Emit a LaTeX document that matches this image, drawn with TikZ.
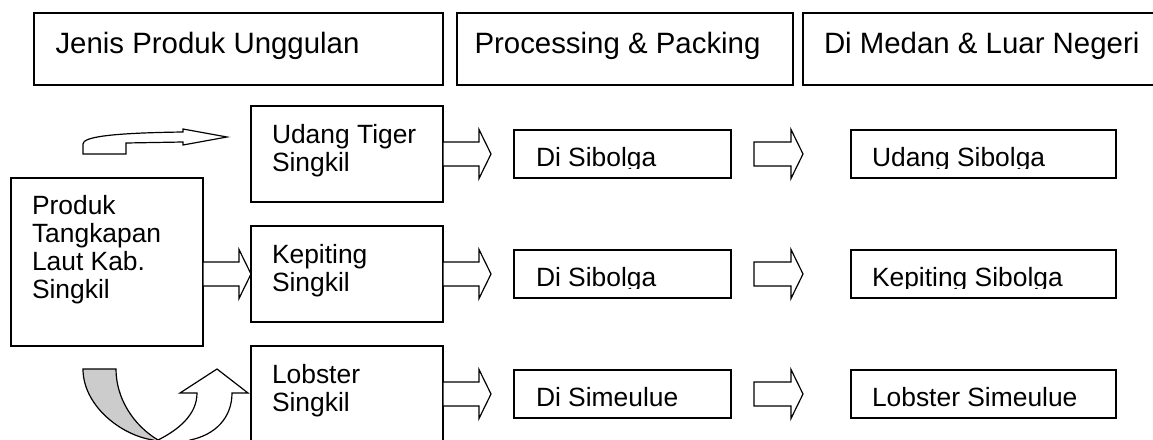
\documentclass[tikz,border=0pt]{standalone}
\usepackage{fontspec}
\setmainfont{Liberation Sans}
\newcommand\blockarrow[3]{%
  \draw[barrow] (#1) ++(0,-12) -- ++(#2,0) -- ++(0,-12.5) -- ++(#3,24.5)
    -- ++(-#3,24.5) -- ++(0,-12.5) -- ++(-#2,0) -- cycle;}
\begin{document}
\begin{tikzpicture}[x=1pt,y=-1pt,
  box/.style={draw, line width=1.5pt, inner sep=0pt, outer sep=0pt, anchor=north west},
  txt/.style={inner sep=0pt, outer sep=0pt, anchor=base west, font=\fontsize{26.4}{28}\selectfont},
  htxt/.style={inner sep=0pt, outer sep=0pt, anchor=base west, font=\fontsize{29.4}{33}\selectfont},
  barrow/.style={draw, line width=1.2pt, fill=white, line join=miter},
  uback/.style={draw, line width=1.2pt, fill=gray!40, line join=miter}]
\useasboundingbox (0,0) rectangle (1153,439);
\clip (0,0) rectangle (1153,439);

% header boxes
\node[box, minimum width=409pt, minimum height=72pt] (h1) at (34,13) {};
\node[box, minimum width=336pt, minimum height=72pt] (h2) at (457,13) {};
\node[box, minimum width=400pt, minimum height=72pt] (h3) at (803,13) {};
\node[htxt] (t1) at (55.5,53) {Jenis Produk Unggulan};
\node[htxt] (t2) at (474.5,53) {Processing \& Packing};
\node[htxt] (t3) at (824,53) {Di Medan \& Luar Negeri};

% source box
\node[box, minimum width=192pt, minimum height=168pt] (pbox) at (11,178) {};
\node[txt] (ptxt) at (32,214) {\vtop{\hbox{Produk}\hbox{Tangkapan}\hbox{Laut Kab.}\hbox{Singkil}}};

% product boxes
\node[box, minimum width=192pt, minimum height=96pt] (udang) at (251,106) {};
\node[box, minimum width=192pt, minimum height=96pt] (kepiting) at (251,226) {};
\node[box, minimum width=192pt, minimum height=96pt] (lobster) at (251,346) {};
\node[txt] (udangt) at (272,143) {\vtop{\hbox{Udang Tiger}\hbox{Singkil}}};
\node[txt] (kepitingt) at (272,263) {\vtop{\hbox{Kepiting}\hbox{Singkil}}};
\node[txt] (lobstert) at (272,383) {\vtop{\hbox{Lobster}\hbox{Singkil}}};

% processing boxes
\node[box, minimum width=217pt, minimum height=48pt] (dis1) at (514,130) {};
\node[box, minimum width=217pt, minimum height=48pt] (dis2) at (514,250) {};
\node[box, minimum width=217pt, minimum height=48pt] (dis3) at (514,370) {};

% market boxes
\node[box, minimum width=265pt, minimum height=48pt] (out1) at (851,130) {};
\node[box, minimum width=265pt, minimum height=48pt] (out2) at (851,250) {};
\node[box, minimum width=265pt, minimum height=48pt] (out3) at (851,370) {};

% texts (rows 1 and 2 are cut just below the baseline, as printed)
\begin{scope}
  \clip (514,130) rectangle (1116,168);
  \node[txt] (dis1t) at (536,166) {Di Sibolga};
  \node[txt] (out1t) at (872,166) {Udang Sibolga};
\end{scope}
\begin{scope}
  \clip (514,250) rectangle (1116,288);
  \node[txt] (dis2t) at (536,286) {Di Sibolga};
  \node[txt] (out2t) at (872,286) {Kepiting Sibolga};
\end{scope}
\node[txt] (dis3t) at (536,406) {Di Simeulue};
\node[txt] (out3t) at (872,406) {Lobster Simeulue};

% block arrows
\blockarrow{pbox.east |- kepiting.west}{36}{12}
\blockarrow{udang.east}{36}{12}
\blockarrow{kepiting.east}{36}{12}
\blockarrow{lobster.east}{36}{12}
\blockarrow{[xshift=23pt]dis1.east}{37}{12}
\blockarrow{[xshift=23pt]dis2.east}{37}{12}
\blockarrow{[xshift=23pt]dis3.east}{37}{12}

% bent arrow at top left
\draw[barrow] (83,154) -- (83,144) .. controls (83,137) and (110,133) .. (183,132)
  -- (183,129) -- (227,137) -- (183,145) -- (183,142) -- (126,143) -- (126,154) -- cycle;

% curved up arrow at bottom left
\draw[uback] (83,369) -- (116,369) .. controls (116,398) and (133,425) .. (158,440)
  -- (158,450) -- (153,450) -- (153,440) .. controls (120,435) and (83,405) .. (83,369) -- cycle;
\draw[barrow] (158,440) .. controls (178,430) and (197,415) .. (197,393) -- (180,393)
  -- (217,369) -- (248,393) -- (232,393) .. controls (232,418) and (215,435) .. (190,440)
  -- (190,450) -- (158,450) -- cycle;
\end{tikzpicture}
\end{document}
